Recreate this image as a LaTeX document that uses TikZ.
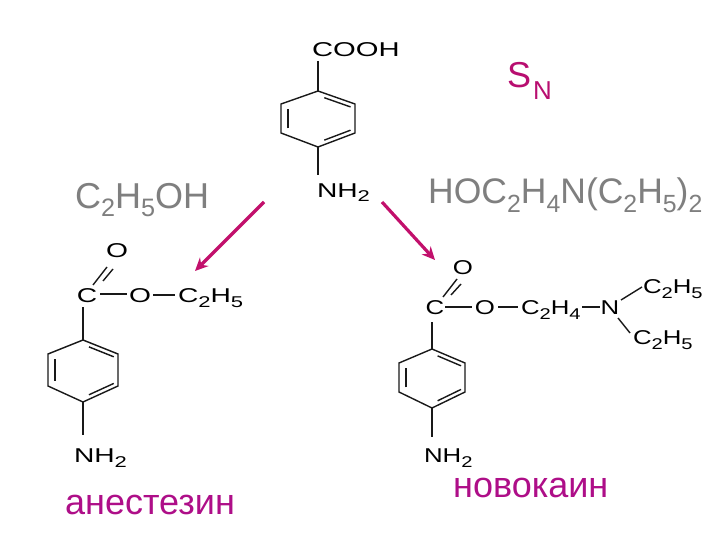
\documentclass[tikz,border=0pt]{standalone}
\usepackage{fontspec}
\setmainfont{Liberation Sans}
\usetikzlibrary{arrows.meta,calc}
\definecolor{arrowcol}{HTML}{C2106C}
\definecolor{namecol}{HTML}{AE0E88}
\definecolor{sncol}{HTML}{B80E70}
\definecolor{reagentcol}{HTML}{7F7F7F}
\newcommand{\dn}[1]{\raisebox{-9pt}{\scalebox{0.7}{#1}}}
\newcommand{\an}[1]{\raisebox{-5pt}{\scalebox{0.78}{#1}}}
\newcommand{\fs}[1]{\fontsize{#1}{#1}\selectfont}
\newcommand{\wc}[1]{\scalebox{1.46}[1]{#1}}
\newcommand{\wa}[1]{\scalebox{1.41}[1]{#1}}
\newcommand{\wb}[1]{\scalebox{1.29}[1]{#1}}
% ring: prefix, cx, top y, half width, y2, y3, bottom y
\newcommand{\ringat}[7]{%
  \coordinate (#1a) at (#2,#3);
  \coordinate (#1b) at (#2+#4,#5);
  \coordinate (#1c) at (#2+#4,#6);
  \coordinate (#1d) at (#2,#7);
  \coordinate (#1e) at (#2-#4,#6);
  \coordinate (#1f) at (#2-#4,#5);
  \draw[bond,line join=miter] (#1a)--(#1b)--(#1c)--(#1d)--(#1e)--(#1f)--cycle;
  \draw[bond] ($(#1a)!0.17!(#1b)+(0,4.5)$) -- ($(#1a)!0.88!(#1b)+(0,4.5)$);
  \draw[bond] ($(#1c)!0.12!(#1d)+(0,-4.5)$) -- ($(#1c)!0.83!(#1d)+(0,-4.5)$);
  \draw[bond] ($(#1e)!0.16!(#1f)+(7,0)$) -- ($(#1e)!0.84!(#1f)+(7,0)$);
}
\tikzset{
  bond/.style={draw=black!90,line width=1.4pt},
  atom/.style={anchor=base west,inner sep=0pt,outer sep=0pt,text=black,font=\fs{20}},
  atomc/.style={anchor=base,inner sep=0pt,outer sep=0pt,text=black,font=\fs{20}},
  reagent/.style={anchor=base west,inner sep=0pt,text=reagentcol,font=\fs{36}},
  drugname/.style={anchor=base west,inner sep=0pt,text=namecol,font=\fs{36}},
  react/.style={draw=arrowcol,line width=3.2pt,-{Stealth[length=13pt,width=12pt]}}
}
\begin{document}
\begin{tikzpicture}[x=1pt,y=-1pt]
\useasboundingbox (0,0) rectangle (720,540);
\fill[white] (0,0) rectangle (720,540);

% top molecule
\node[atom] (cooh) at (312,57) {\wc{COOH}};
\ringat{t}{318}{91}{37}{104}{133}{147}
\node[atom] (tnh) at (317,197) {\wa{NH\an{2}}};
\coordinate (tu) at (318,61);
\coordinate (tl) at (318,175);
\draw[bond] (tu) -- (ta);
\draw[bond] (td) -- (tl);

% reagents and label
\node[reagent] (etoh) at (75,208) {C\dn{2}H\dn{5}OH};
\node[reagent,font=\fs{35.5}] (amino) at (428,204) {HOC\dn{2}H\dn{4}N(C\dn{2}H\dn{5})\dn{2}};
\node[anchor=base west,inner sep=0pt,text=sncol,font=\fs{36}] (sn) at (507,88) {S\kern2pt\raisebox{-12pt}{\scalebox{0.72}{N}}};

% arrows
\coordinate (a1s) at (264,202);
\coordinate (a1e) at (195,271);
\coordinate (a2s) at (382,202);
\coordinate (a2e) at (435,260);
\draw[react] (a1s) -- (a1e);
\draw[react] (a2s) -- (a2e);

% anesthesin
\node[atomc] (lO) at (117,258) {\wa{O}};
\node[atomc] (lC) at (87,302) {\wa{C}};
\node[atomc] (lOe) at (140,302) {\wa{O}};
\node[atom] (lEt) at (178,302) {\wa{C\an{2}H\an{5}}};
\coordinate (ld1) at (93,285); \coordinate (ld2) at (107,267);
\coordinate (ld3) at (103,281); \coordinate (ld4) at (113,269);
\coordinate (lb1) at (100,294); \coordinate (lb2) at (127,294);
\coordinate (lb3) at (153,295); \coordinate (lb4) at (175,295);
\coordinate (lb5) at (83,307);
\draw[bond] (ld1) -- (ld2);
\draw[bond] (ld3) -- (ld4);
\draw[bond] (lb1) -- (lb2);
\draw[bond] (lb3) -- (lb4);
\ringat{l}{83}{340}{35}{354}{386}{402}
\draw[bond] (lb5) -- (la);
\coordinate (ln) at (83,435);
\draw[bond] (ld) -- (ln);
\node[atom] (lnh) at (74,462) {\wa{NH\an{2}}};
\node[drugname] (anes) at (65,514) {анестезин};

% novocaine
\node[atomc] (rO) at (463,274) {\wb{O}};
\node[atomc] (rC) at (435,314) {\wb{C}};
\node[atomc] (rOe) at (485,314) {\wb{O}};
\node[atom] (rC2) at (521,314) {\wb{C\an{2}H\an{4}}};
\node[atomc] (rN) at (610,314) {\wb{N}};
\node[atom] (rEt1) at (643,293) {\wb{C\an{2}H\an{5}}};
\node[atom] (rEt2) at (633,344) {\wb{C\an{2}H\an{5}}};
\coordinate (rd1) at (443,297); \coordinate (rd2) at (457,279);
\coordinate (rd3) at (451,295); \coordinate (rd4) at (461,284);
\coordinate (rb1) at (445,307); \coordinate (rb2) at (472,307);
\coordinate (rb3) at (498,307); \coordinate (rb4) at (518,307);
\coordinate (rb5) at (582,307); \coordinate (rb6) at (600,307);
\coordinate (rb7) at (621,300); \coordinate (rb8) at (642,287);
\coordinate (rb9) at (618,318); \coordinate (rb10) at (630,333);
\coordinate (rb11) at (432,322);
\draw[bond] (rd1) -- (rd2);
\draw[bond] (rd3) -- (rd4);
\draw[bond] (rb1) -- (rb2);
\draw[bond] (rb3) -- (rb4);
\draw[bond] (rb5) -- (rb6);
\draw[bond] (rb7) -- (rb8);
\draw[bond] (rb9) -- (rb10);
\ringat{r}{432}{349}{33}{363}{392}{408}
\draw[bond] (rb11) -- (ra);
\coordinate (rn) at (432,437);
\draw[bond] (rd) -- (rn);
\node[atom] (rnh) at (424,462) {\wb{NH\an{2}}};
\node[drugname] (novo) at (453,497) {новокаин};
\end{tikzpicture}
\end{document}
